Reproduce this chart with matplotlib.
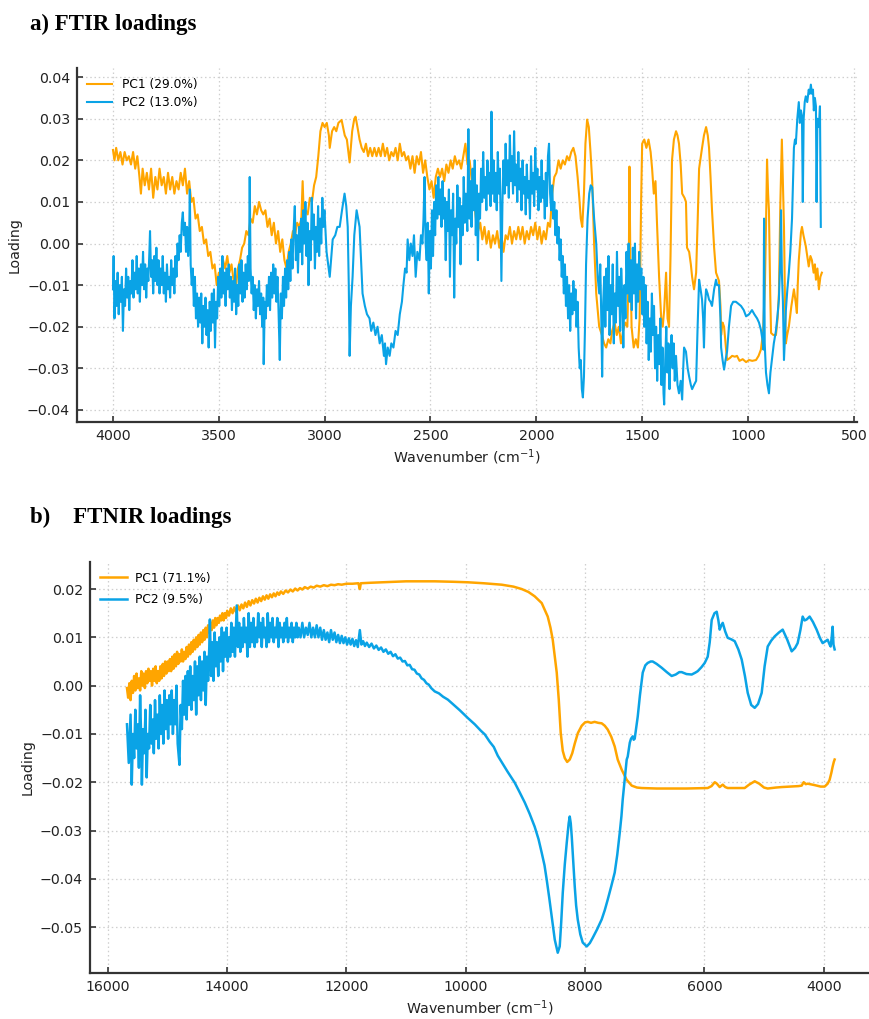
import numpy as np
import matplotlib
matplotlib.use("Agg")
import matplotlib.pyplot as plt
from matplotlib.ticker import FuncFormatter

# ---------------- data ----------------
ftir_pc1_label = "PC1 (29.0%)"
ftir_pc2_label = "PC2 (13.0%)"
nir_pc1_label = "PC1 (71.1%)"
nir_pc2_label = "PC2 (9.5%)"

ftir_pc1 = [
    (4000, 0.0225), (3993, 0.020), (3985, 0.023), (3975, 0.020), (3965, 0.022), (3955, 0.019),
    (3945, 0.022), (3935, 0.020), (3925, 0.021), (3915, 0.019), (3905, 0.022), (3895, 0.018),
    (3885, 0.021), (3875, 0.016), (3868, 0.012), (3860, 0.018), (3850, 0.014), (3840, 0.017),
    (3830, 0.013), (3820, 0.018), (3810, 0.011), (3800, 0.016), (3790, 0.013), (3780, 0.018),
    (3770, 0.014), (3760, 0.016), (3750, 0.012), (3740, 0.017), (3730, 0.013), (3720, 0.016),
    (3710, 0.012), (3700, 0.015), (3690, 0.013), (3680, 0.017), (3670, 0.014), (3660, 0.018),
    (3650, 0.012), (3640, 0.015), (3630, 0.010), (3620, 0.011), (3610, 0.006), (3600, 0.007),
    (3590, 0.003), (3580, 0.004), (3570, 0.000), (3560, 0.001), (3550, -0.003), (3540, -0.002),
    (3530, -0.006), (3520, -0.005), (3510, -0.010), (3500, -0.007), (3490, -0.008), (3480, -0.004),
    (3470, -0.006), (3460, -0.003), (3450, -0.007), (3440, -0.005), (3430, -0.009), (3420, -0.011),
    (3410, -0.006), (3400, -0.004), (3390, -0.001), (3380, 0.000), (3370, 0.003), (3360, 0.002),
    (3350, 0.006), (3340, 0.005), (3330, 0.009), (3320, 0.007), (3310, 0.010), (3300, 0.008),
    (3290, 0.007), (3280, 0.008), (3270, 0.004), (3260, 0.006), (3250, 0.002), (3240, 0.005),
    (3230, 0.000), (3220, 0.003), (3210, -0.002), (3200, 0.001), (3190, -0.004), (3180, -0.006),
    (3170, -0.002), (3160, 0.000), (3150, 0.003), (3140, 0.002), (3130, 0.005), (3120, 0.004),
    (3110, 0.006), (3104, 0.015), (3098, 0.006), (3090, 0.008), (3080, 0.007), (3070, 0.011),
    (3060, 0.010), (3050, 0.014), (3040, 0.016), (3030, 0.021), (3020, 0.027), (3010, 0.029),
    (3000, 0.028), (2990, 0.029), (2980, 0.026), (2976, 0.023), (2965, 0.027), (2955, 0.028),
    (2945, 0.027), (2935, 0.029), (2920, 0.0297), (2905, 0.026), (2895, 0.025), (2882, 0.0195),
    (2870, 0.027), (2860, 0.030), (2854, 0.0305), (2845, 0.028), (2835, 0.025), (2825, 0.023),
    (2815, 0.022), (2805, 0.024), (2795, 0.021), (2785, 0.023), (2775, 0.021), (2765, 0.023),
    (2755, 0.021), (2745, 0.023), (2735, 0.021), (2725, 0.024), (2715, 0.021), (2705, 0.023),
    (2695, 0.020), (2685, 0.022), (2675, 0.021), (2665, 0.023), (2655, 0.020), (2645, 0.024),
    (2635, 0.021), (2625, 0.022), (2615, 0.020), (2605, 0.021), (2595, 0.018), (2585, 0.021),
    (2575, 0.017), (2565, 0.021), (2555, 0.019), (2545, 0.022), (2535, 0.017), (2525, 0.020),
    (2515, 0.016), (2505, 0.013), (2495, 0.015), (2485, 0.011), (2475, 0.016), (2465, 0.018),
    (2455, 0.016), (2445, 0.018), (2435, 0.015), (2425, 0.019), (2415, 0.017), (2405, 0.020),
    (2395, 0.018), (2385, 0.021), (2375, 0.019), (2365, 0.020), (2355, 0.018), (2345, 0.021),
    (2335, 0.024), (2325, 0.019), (2315, 0.020), (2305, 0.015), (2295, 0.010), (2285, 0.006),
    (2275, 0.003), (2265, 0.005), (2255, 0.001), (2245, 0.004), (2235, 0.000), (2225, 0.003),
    (2215, -0.001), (2205, 0.002), (2195, 0.000), (2185, 0.003), (2175, -0.001), (2165, 0.002),
    (2155, -0.002), (2145, 0.002), (2135, 0.001), (2125, 0.004), (2115, 0.000), (2105, 0.003),
    (2095, 0.001), (2085, 0.004), (2075, 0.001), (2065, 0.004), (2055, 0.000), (2045, 0.003),
    (2035, 0.001), (2025, 0.004), (2015, 0.002), (2005, 0.005), (1995, 0.001), (1985, 0.004),
    (1975, 0.000), (1965, 0.003), (1955, 0.001), (1945, 0.005), (1935, 0.004), (1925, 0.012),
    (1915, 0.016), (1905, 0.017), (1895, 0.020), (1885, 0.018), (1875, 0.020), (1865, 0.019),
    (1855, 0.021), (1845, 0.020), (1835, 0.022), (1825, 0.023), (1815, 0.021), (1805, 0.016),
    (1797, 0.011), (1790, 0.006), (1783, 0.004), (1775, 0.012), (1768, 0.024), (1760, 0.0298),
    (1752, 0.028), (1744, 0.022), (1736, 0.015), (1727, 0.000), (1717, -0.012), (1703, -0.020),
    (1690, -0.022), (1680, -0.024), (1670, -0.025), (1660, -0.023), (1650, -0.024), (1642, -0.021),
    (1630, -0.019), (1620, -0.022), (1610, -0.020), (1600, -0.024), (1590, -0.021), (1580, -0.019),
    (1570, -0.020), (1563, -0.005), (1560, 0.0185), (1556, -0.003), (1550, -0.020), (1540, -0.025),
    (1530, -0.023), (1520, -0.025), (1512, -0.018), (1505, 0.010), (1500, 0.024), (1490, 0.025),
    (1480, 0.023), (1470, 0.025), (1460, 0.022), (1453, 0.018), (1445, 0.012), (1437, 0.015),
    (1430, 0.005), (1420, -0.008), (1410, -0.018), (1403, -0.020), (1396, -0.016), (1387, -0.007),
    (1380, -0.018), (1373, -0.020), (1366, -0.003), (1359, 0.020), (1350, 0.025), (1340, 0.027),
    (1333, 0.026), (1326, 0.024), (1318, 0.019), (1311, 0.012), (1300, 0.011), (1293, 0.010),
    (1288, -0.001), (1278, -0.002), (1270, -0.005), (1264, -0.008), (1255, -0.011), (1245, -0.007),
    (1238, 0.005), (1231, 0.018), (1217, 0.023), (1208, 0.026), (1198, 0.028), (1190, 0.026),
    (1184, 0.023), (1177, 0.016), (1170, 0.008), (1160, -0.001), (1151, -0.007), (1137, -0.009),
    (1130, -0.015), (1127, -0.022), (1120, -0.019), (1113, -0.020), (1106, -0.024), (1099, -0.028),
    (1085, -0.0275), (1075, -0.027), (1062, -0.0272), (1052, -0.027), (1040, -0.0282), (1025, -0.0278),
    (1009, -0.0285), (995, -0.028), (980, -0.0282), (962, -0.028), (950, -0.027), (939, -0.0255),
    (929, -0.0215), (920, -0.010), (915, 0.004), (910, 0.0202), (905, 0.012), (901, 0.008),
    (895, -0.012), (891, -0.0215), (880, -0.022), (868, -0.022), (860, -0.018), (854, -0.012),
    (847, 0.010), (840, 0.025), (835, 0.015), (830, 0.004), (825, -0.015), (821, -0.024),
    (815, -0.022), (807, -0.020), (795, -0.015), (783, -0.011), (775, -0.014), (769, -0.0167),
    (765, -0.010), (760, -0.004), (750, 0.0026), (745, 0.004), (738, 0.002), (727, -0.0006),
    (720, -0.003), (713, -0.0055), (705, -0.003), (698, -0.004), (690, -0.007), (684, -0.005),
    (679, -0.0087), (672, -0.006), (665, -0.011), (658, -0.008), (651, -0.007),
]

ftir_pc2 = [
    (4000, -0.011), (3997, -0.003), (3993, -0.018), (3988, -0.009), (3983, -0.015), (3978, -0.007),
    (3973, -0.017), (3968, -0.010), (3963, -0.014), (3958, -0.008), (3953, -0.021), (3948, -0.011),
    (3943, -0.015), (3938, -0.006), (3933, -0.013), (3928, -0.008), (3923, -0.016), (3918, -0.009),
    (3913, -0.012), (3908, -0.004), (3903, -0.013), (3898, -0.007), (3893, -0.011), (3888, -0.003),
    (3883, -0.012), (3878, -0.006), (3873, -0.014), (3868, -0.005), (3863, -0.010), (3858, -0.002),
    (3853, -0.011), (3848, -0.005), (3843, -0.013), (3838, -0.006), (3833, -0.009), (3828, -0.002),
    (3825, 0.003), (3820, -0.008), (3815, -0.004), (3810, -0.012), (3805, -0.003), (3800, -0.009),
    (3795, -0.001), (3790, -0.010), (3785, -0.004), (3780, -0.012), (3775, -0.006), (3770, -0.010),
    (3765, -0.003), (3760, -0.012), (3755, -0.007), (3750, -0.014), (3745, -0.005), (3740, -0.011),
    (3735, -0.008), (3730, -0.013), (3725, -0.004), (3720, -0.010), (3715, -0.006), (3710, -0.012),
    (3705, -0.003), (3700, -0.008), (3695, 0.000), (3690, -0.004), (3685, 0.002), (3680, -0.002),
    (3675, 0.005), (3670, 0.0075), (3665, 0.002), (3660, 0.005), (3655, -0.002), (3650, 0.004),
    (3645, -0.003), (3640, 0.002), (3637, 0.013), (3633, -0.005), (3628, -0.010), (3623, -0.006),
    (3618, -0.015), (3613, -0.008), (3608, -0.018), (3603, -0.012), (3598, -0.020), (3593, -0.013),
    (3588, -0.019), (3583, -0.012), (3578, -0.024), (3573, -0.015), (3568, -0.020), (3563, -0.013),
    (3558, -0.022), (3553, -0.016), (3548, -0.025), (3543, -0.014), (3538, -0.021), (3533, -0.012),
    (3528, -0.019), (3523, -0.011), (3518, -0.025), (3513, -0.014), (3508, -0.018), (3503, -0.008),
    (3498, -0.015), (3493, -0.006), (3488, -0.013), (3483, -0.003), (3478, -0.012), (3473, -0.007),
    (3468, -0.015), (3463, -0.006), (3458, -0.011), (3453, -0.005), (3448, -0.013), (3443, -0.008),
    (3438, -0.016), (3433, -0.009), (3428, -0.014), (3423, -0.006), (3418, -0.017), (3413, -0.010),
    (3408, -0.015), (3403, -0.005), (3398, -0.012), (3393, -0.004), (3388, -0.014), (3383, -0.007),
    (3378, -0.013), (3373, -0.005), (3368, -0.011), (3363, -0.003), (3358, -0.009), (3354, 0.016),
    (3350, -0.006), (3345, -0.012), (3340, -0.008), (3335, -0.016), (3330, -0.010), (3325, -0.018),
    (3320, -0.011), (3315, -0.015), (3310, -0.009), (3305, -0.017), (3300, -0.012), (3295, -0.020),
    (3290, -0.013), (3288, -0.029), (3283, -0.014), (3278, -0.018), (3273, -0.010), (3268, -0.015),
    (3263, -0.008), (3258, -0.016), (3253, -0.007), (3248, -0.013), (3243, -0.005), (3238, -0.012),
    (3233, -0.006), (3228, -0.014), (3223, -0.008), (3218, -0.016), (3212, -0.028), (3207, -0.012),
    (3202, -0.018), (3197, -0.008), (3192, -0.015), (3187, -0.006), (3182, -0.013), (3177, -0.004),
    (3172, -0.011), (3167, -0.002), (3162, -0.009), (3157, 0.001), (3152, -0.006), (3147, 0.003),
    (3141, 0.009), (3136, -0.004), (3131, 0.002), (3126, -0.007), (3121, 0.004), (3116, -0.002),
    (3111, 0.006), (3106, -0.005), (3101, 0.008), (3096, 0.000), (3091, 0.010), (3086, -0.003),
    (3081, 0.005), (3076, -0.010), (3071, 0.003), (3066, -0.004), (3061, 0.011), (3056, 0.001),
    (3051, 0.007), (3046, -0.006), (3041, 0.004), (3036, -0.002), (3031, 0.009), (3026, -0.003),
    (3021, 0.006), (3016, 0.000), (3011, 0.011), (3006, 0.004), (3001, 0.008), (2991, -0.002),
    (2976, -0.008), (2968, -0.003), (2962, 0.001), (2950, 0.002), (2940, 0.004), (2929, 0.004),
    (2918, 0.008), (2906, 0.012), (2898, 0.009), (2891, 0.004), (2886, -0.010), (2882, -0.027),
    (2876, -0.015), (2868, -0.008), (2860, 0.002), (2849, 0.008), (2842, 0.006), (2835, 0.004),
    (2828, -0.004), (2821, -0.012), (2810, -0.015), (2800, -0.017), (2788, -0.018), (2780, -0.021),
    (2770, -0.019), (2760, -0.022), (2750, -0.020), (2740, -0.024), (2730, -0.022), (2720, -0.027),
    (2715, -0.024), (2710, -0.029), (2702, -0.025), (2693, -0.027), (2685, -0.024), (2675, -0.025),
    (2665, -0.021), (2655, -0.022), (2645, -0.017), (2635, -0.014), (2628, -0.010), (2620, -0.006),
    (2613, -0.007), (2608, 0.001), (2600, -0.004), (2593, 0.000), (2585, -0.003), (2578, 0.002),
    (2570, -0.008), (2562, -0.002), (2552, -0.004), (2545, 0.002), (2538, 0.000), (2533, 0.006),
    (2528, 0.016), (2523, 0.000), (2518, -0.004), (2513, 0.005), (2508, -0.012), (2503, 0.003),
    (2498, -0.006), (2493, 0.008), (2488, -0.003), (2483, 0.010), (2478, 0.002), (2473, 0.014),
    (2468, 0.006), (2463, 0.016), (2458, 0.007), (2453, 0.013), (2448, 0.004), (2443, 0.015),
    (2438, 0.006), (2433, 0.011), (2428, -0.004), (2423, 0.010), (2418, 0.003), (2413, 0.013),
    (2408, -0.008), (2403, 0.008), (2398, 0.002), (2393, 0.012), (2388, -0.013), (2383, 0.006),
    (2378, 0.000), (2373, 0.014), (2368, 0.004), (2363, 0.011), (2358, -0.005), (2353, 0.009),
    (2348, 0.002), (2343, 0.016), (2338, 0.005), (2333, 0.012), (2326, 0.003), (2321, 0.0275),
    (2316, 0.006), (2311, 0.015), (2306, 0.004), (2301, 0.018), (2296, 0.008), (2291, 0.020),
    (2286, 0.002), (2281, 0.014), (2276, -0.004), (2271, 0.012), (2266, 0.006), (2261, 0.018),
    (2256, 0.010), (2251, 0.022), (2246, 0.011), (2241, 0.016), (2236, 0.008), (2231, 0.020),
    (2226, 0.012), (2221, 0.017), (2216, 0.009), (2212, 0.0317), (2207, 0.012), (2202, 0.020),
    (2197, 0.010), (2192, 0.017), (2187, 0.008), (2182, 0.022), (2177, 0.012), (2172, 0.018),
    (2165, -0.009), (2160, 0.010), (2155, 0.020), (2150, 0.012), (2145, 0.024), (2140, 0.014),
    (2135, 0.020), (2130, 0.011), (2125, 0.026), (2120, 0.015), (2115, 0.021), (2110, 0.012),
    (2105, 0.027), (2100, 0.014), (2095, 0.019), (2090, 0.010), (2085, 0.022), (2080, 0.013),
    (2075, 0.018), (2070, 0.008), (2065, 0.020), (2060, 0.012), (2055, 0.016), (2050, 0.007),
    (2045, 0.019), (2040, 0.011), (2035, 0.015), (2030, 0.006), (2025, 0.021), (2020, 0.012),
    (2015, 0.017), (2010, 0.009), (2005, 0.023), (2000, 0.013), (1995, 0.018), (1990, 0.008),
    (1985, 0.016), (1980, 0.010), (1975, 0.020), (1970, 0.011), (1965, 0.015), (1960, 0.006),
    (1955, 0.017), (1950, 0.009), (1945, 0.021), (1940, 0.024), (1935, 0.012), (1930, 0.008),
    (1925, 0.014), (1920, 0.006), (1915, 0.010), (1910, 0.002), (1905, 0.008), (1900, 0.000),
    (1895, 0.004), (1890, -0.004), (1885, 0.001), (1880, -0.008), (1875, -0.003), (1870, -0.012),
    (1865, -0.005), (1860, -0.015), (1855, -0.008), (1850, -0.018), (1845, -0.010), (1840, -0.021),
    (1835, -0.012), (1830, -0.017), (1825, -0.009), (1820, -0.016), (1815, -0.011), (1810, -0.020),
    (1805, -0.014), (1800, -0.025), (1795, -0.030), (1790, -0.028), (1785, -0.035), (1780, -0.037),
    (1775, -0.032), (1770, -0.020), (1765, -0.005), (1758, 0.006), (1750, 0.012), (1743, 0.014),
    (1736, 0.0135), (1727, 0.006), (1717, 0.000), (1710, -0.008), (1703, -0.012), (1698, -0.005),
    (1693, -0.018), (1689, -0.032), (1684, -0.014), (1679, -0.008), (1674, -0.020), (1669, -0.006),
    (1664, -0.016), (1659, -0.003), (1654, -0.022), (1649, -0.010), (1644, -0.017), (1639, -0.005),
    (1634, -0.024), (1629, -0.012), (1624, -0.019), (1619, -0.002), (1614, -0.015), (1609, -0.008),
    (1604, -0.021), (1599, -0.006), (1594, -0.013), (1589, -0.025), (1584, -0.010), (1579, -0.018),
    (1574, -0.002), (1569, -0.012), (1564, 0.000), (1559, -0.014), (1554, -0.004), (1549, -0.016),
    (1544, -0.001), (1539, -0.012), (1534, 0.000), (1529, -0.018), (1524, -0.005), (1519, -0.014),
    (1514, -0.002), (1509, -0.011), (1504, -0.006), (1499, -0.017), (1494, -0.008), (1489, -0.020),
    (1484, -0.010), (1479, -0.024), (1474, -0.014), (1469, -0.028), (1464, -0.018), (1459, -0.026),
    (1454, -0.012), (1449, -0.022), (1444, -0.015), (1439, -0.030), (1434, -0.020), (1429, -0.033),
    (1424, -0.022), (1419, -0.029), (1414, -0.018), (1409, -0.034), (1404, -0.025), (1399, -0.036),
    (1396, -0.0387), (1391, -0.028), (1386, -0.020), (1381, -0.031), (1376, -0.024), (1371, -0.035),
    (1366, -0.026), (1361, -0.022), (1356, -0.030), (1351, -0.024), (1346, -0.033), (1340, -0.027),
    (1333, -0.034), (1326, -0.036), (1318, -0.033), (1311, -0.0375), (1306, -0.030), (1302, -0.025),
    (1293, -0.026), (1285, -0.030), (1278, -0.032), (1270, -0.034), (1264, -0.035), (1255, -0.034),
    (1245, -0.033), (1238, -0.020), (1231, -0.0087), (1224, -0.011), (1217, -0.0135), (1212, -0.018),
    (1208, -0.025), (1203, -0.015), (1198, -0.011), (1191, -0.012), (1184, -0.0135), (1177, -0.014),
    (1170, -0.015), (1160, -0.011), (1151, -0.0087), (1146, -0.010), (1137, -0.010), (1130, -0.018),
    (1127, -0.025), (1120, -0.028), (1113, -0.0303), (1106, -0.028), (1099, -0.026), (1090, -0.020),
    (1080, -0.015), (1070, -0.014), (1057, -0.014), (1045, -0.0145), (1033, -0.015), (1020, -0.016),
    (1009, -0.0175), (995, -0.017), (981, -0.016), (970, -0.017), (957, -0.018), (948, -0.019),
    (939, -0.0207), (932, -0.023), (927, -0.0255), (924, 0.006), (921, -0.024), (915, -0.031),
    (908, -0.034), (901, -0.036), (894, -0.031), (887, -0.028), (878, -0.024), (868, -0.021),
    (860, -0.017), (854, -0.0135), (848, -0.004), (844, 0.008), (840, -0.007), (835, -0.014),
    (830, -0.028), (825, -0.022), (821, -0.016), (814, -0.011), (807, -0.007), (800, -0.002),
    (792, 0.006), (787, 0.015), (783, 0.023), (778, 0.025), (774, 0.024), (767, 0.030),
    (760, 0.034), (755, 0.029), (750, 0.032), (745, 0.0306), (741, 0.010), (737, 0.030),
    (732, 0.034), (727, 0.0354), (720, 0.034), (713, 0.037), (708, 0.036), (703, 0.0382),
    (698, 0.036), (693, 0.037), (689, 0.032), (684, 0.035), (679, 0.033), (676, 0.010),
    (672, 0.030), (665, 0.028), (660, 0.033), (656, 0.004),
]

nir_pc1 = [
    (15680, -0.0005), (15660, -0.0025), (15640, 0.0005), (15620, -0.003), (15600, 0.0010),
    (15580, -0.0015), (15560, 0.0020), (15540, -0.0010), (15520, 0.0025), (15500, -0.0005),
    (15480, 0.0015), (15460, -0.0010), (15440, 0.0030), (15420, 0.0000), (15400, 0.0025),
    (15380, -0.0005), (15360, 0.0030), (15340, 0.0005), (15320, 0.0035), (15300, 0.0010),
    (15280, 0.0030), (15260, 0.0000), (15240, 0.0035), (15220, 0.0010), (15200, 0.0040),
    (15180, 0.0005), (15160, 0.0030), (15140, 0.0010), (15120, 0.0040), (15100, 0.0015),
    (15080, 0.0045), (15060, 0.0020), (15040, 0.0050), (15020, 0.0025), (15000, 0.0050),
    (14980, 0.0030), (14960, 0.0055), (14940, 0.0030), (14920, 0.0060), (14900, 0.0035),
    (14880, 0.0065), (14860, 0.0040), (14840, 0.0070), (14820, 0.0045), (14800, 0.0065),
    (14780, 0.0050), (14760, 0.0075), (14740, 0.0050), (14720, 0.0070), (14700, 0.0055),
    (14680, 0.0080), (14660, 0.0060), (14640, 0.0085), (14620, 0.0065), (14600, 0.0090),
    (14580, 0.0070), (14560, 0.0095), (14540, 0.0075), (14520, 0.0100), (14500, 0.0080),
    (14480, 0.0105), (14460, 0.0085), (14440, 0.0110), (14420, 0.0090), (14400, 0.0115),
    (14380, 0.0095), (14360, 0.0120), (14340, 0.0100), (14320, 0.0125), (14300, 0.0110),
    (14280, 0.0130), (14260, 0.0115), (14240, 0.0135), (14220, 0.0120), (14200, 0.0140),
    (14180, 0.0125), (14160, 0.0140), (14140, 0.0130), (14120, 0.0145), (14100, 0.0135),
    (14080, 0.0150), (14060, 0.0135), (14040, 0.0150), (14020, 0.0140), (14000, 0.0155),
    (13970, 0.0145), (13940, 0.0160), (13910, 0.0150), (13880, 0.0162), (13850, 0.0152),
    (13820, 0.0166), (13790, 0.0156), (13760, 0.0168), (13730, 0.0160), (13700, 0.0172),
    (13670, 0.0163), (13640, 0.0175), (13610, 0.0166), (13580, 0.0177), (13550, 0.0170),
    (13520, 0.0180), (13490, 0.0172), (13460, 0.0182), (13430, 0.0175), (13400, 0.0185),
    (13370, 0.0178), (13340, 0.0187), (13310, 0.0180), (13280, 0.0189), (13250, 0.0183),
    (13220, 0.0191), (13190, 0.0185), (13160, 0.0193), (13130, 0.0188), (13100, 0.0195),
    (13060, 0.0190), (13020, 0.0197), (12980, 0.0193), (12940, 0.0199), (12900, 0.0195),
    (12860, 0.0201), (12820, 0.0197), (12780, 0.0202), (12740, 0.0199), (12700, 0.0204),
    (12650, 0.0201), (12600, 0.0205), (12550, 0.0203), (12500, 0.0207), (12440, 0.0205),
    (12380, 0.0208), (12320, 0.0206), (12260, 0.0209), (12200, 0.0208), (12140, 0.0210),
    (12080, 0.0209), (12000, 0.0211), (11900, 0.0211), (11800, 0.0212), (11776, 0.0200),
    (11760, 0.0212), (11600, 0.0213), (11400, 0.0214), (11200, 0.0215), (11000, 0.0216),
    (10800, 0.0216), (10520, 0.0216), (10200, 0.0215), (9966, 0.0214), (9700, 0.0212),
    (9397, 0.0209), (9200, 0.0205), (9062, 0.0200), (8950, 0.0194), (8845, 0.0185),
    (8727, 0.0171), (8626, 0.0143), (8580, 0.0120), (8542, 0.0095), (8508, 0.0060),
    (8475, 0.0027), (8441, -0.0029), (8408, -0.0098), (8374, -0.0135), (8340, -0.0150),
    (8300, -0.0158), (8257, -0.0153), (8215, -0.0140), (8173, -0.0120), (8120, -0.0098),
    (8056, -0.0083), (8000, -0.0076), (7955, -0.0075), (7900, -0.0077), (7840, -0.0075),
    (7780, -0.0077), (7721, -0.0078), (7670, -0.0083), (7620, -0.0091), (7560, -0.0106),
    (7503, -0.0126), (7453, -0.0153), (7386, -0.0174), (7302, -0.0195), (7218, -0.0207),
    (7130, -0.0211), (7050, -0.0212), (6800, -0.0213), (6615, -0.0213), (6300, -0.0213),
    (5944, -0.0212), (5880, -0.0208), (5826, -0.0200), (5790, -0.0203), (5743, -0.0210),
    (5692, -0.0205), (5650, -0.0210), (5609, -0.0212), (5450, -0.0212), (5324, -0.0212),
    (5250, -0.0205), (5156, -0.0198), (5080, -0.0203), (5000, -0.0211), (4938, -0.0213),
    (4800, -0.0211), (4704, -0.0210), (4550, -0.0209), (4420, -0.0208), (4369, -0.0207),
    (4335, -0.0200), (4300, -0.0204), (4268, -0.0203), (4150, -0.0206), (4050, -0.0209),
    (3983, -0.0209), (3933, -0.0203), (3900, -0.0195), (3870, -0.0180), (3850, -0.0168),
    (3830, -0.0158), (3816, -0.0153),
]

nir_pc2 = [
    (15680, -0.008), (15650, -0.016), (15620, -0.006), (15600, -0.0205), (15580, -0.010),
    (15560, -0.015), (15540, -0.005), (15520, -0.013), (15500, -0.008), (15480, -0.017),
    (15460, -0.002), (15440, -0.012), (15430, -0.0205), (15410, -0.009), (15390, -0.014),
    (15370, -0.005), (15350, -0.019), (15330, -0.010), (15310, -0.013), (15290, -0.004),
    (15270, -0.012), (15250, -0.007), (15230, -0.014), (15210, -0.003), (15190, -0.011),
    (15170, -0.006), (15150, -0.013), (15130, -0.002), (15110, -0.010), (15090, -0.004),
    (15070, -0.012), (15050, -0.001), (15030, -0.009), (15010, -0.003), (14990, -0.011),
    (14970, -0.002), (14950, -0.008), (14930, -0.001), (14910, -0.010), (14890, -0.003),
    (14870, -0.008), (14850, 0.000), (14830, -0.012), (14800, -0.0164), (14780, -0.004),
    (14760, -0.009), (14740, 0.001), (14720, -0.006), (14700, 0.002), (14680, -0.007),
    (14660, 0.003), (14640, -0.004), (14620, 0.004), (14600, -0.005), (14580, 0.002),
    (14560, -0.003), (14540, 0.005), (14520, -0.006), (14500, 0.004), (14480, -0.002),
    (14460, 0.006), (14440, -0.003), (14420, 0.005), (14400, -0.001), (14380, 0.007),
    (14360, -0.004), (14340, 0.006), (14320, 0.001), (14300, 0.008), (14290, 0.0137),
    (14270, 0.002), (14250, 0.009), (14230, 0.001), (14210, 0.011), (14190, 0.004),
    (14170, 0.009), (14150, 0.002), (14130, 0.010), (14110, 0.005), (14090, 0.012),
    (14070, 0.003), (14050, 0.011), (14030, 0.006), (14010, 0.012), (13990, 0.005),
    (13970, 0.010), (13950, 0.006), (13930, 0.013), (13910, 0.007), (13890, 0.012),
    (13870, 0.006), (13840, 0.0166), (13820, 0.008), (13800, 0.013), (13780, 0.007),
    (13760, 0.012), (13740, 0.008), (13720, 0.014), (13700, 0.009), (13680, 0.012),
    (13660, 0.006), (13640, 0.015), (13620, 0.008), (13600, 0.013), (13580, 0.009),
    (13560, 0.014), (13540, 0.008), (13520, 0.012), (13500, 0.009), (13480, 0.015),
    (13460, 0.010), (13440, 0.013), (13420, 0.008), (13400, 0.014), (13380, 0.010),
    (13360, 0.012), (13340, 0.008), (13320, 0.015), (13300, 0.009), (13280, 0.013),
    (13260, 0.010), (13240, 0.014), (13220, 0.009), (13200, 0.012), (13180, 0.010),
    (13160, 0.014), (13140, 0.008), (13120, 0.013), (13100, 0.010), (13080, 0.012),
    (13060, 0.009), (13040, 0.013), (13020, 0.010), (13000, 0.014), (12980, 0.009),
    (12960, 0.012), (12940, 0.010), (12920, 0.013), (12900, 0.009), (12880, 0.012),
    (12860, 0.010), (12840, 0.013), (12820, 0.010), (12800, 0.012), (12770, 0.010),
    (12740, 0.013), (12710, 0.010), (12680, 0.012), (12650, 0.0105), (12620, 0.013),
    (12590, 0.010), (12560, 0.012), (12530, 0.010), (12500, 0.0125), (12470, 0.010),
    (12440, 0.012), (12410, 0.0095), (12380, 0.0115), (12350, 0.0095), (12320, 0.011),
    (12290, 0.009), (12260, 0.0115), (12230, 0.0095), (12200, 0.011), (12170, 0.009),
    (12140, 0.0105), (12110, 0.0088), (12080, 0.0103), (12050, 0.0088), (12020, 0.010),
    (11990, 0.0085), (11960, 0.0098), (11930, 0.0085), (11900, 0.0097), (11870, 0.0082),
    (11840, 0.0094), (11810, 0.0080), (11776, 0.0115), (11750, 0.0085), (11720, 0.0092),
    (11690, 0.0082), (11660, 0.0089), (11620, 0.0080), (11580, 0.0087), (11540, 0.0077),
    (11500, 0.0083), (11460, 0.0074), (11420, 0.0079), (11380, 0.0070), (11340, 0.0075),
    (11300, 0.0066), (11260, 0.0070), (11220, 0.0061), (11180, 0.0065), (11140, 0.0056),
    (11100, 0.0058), (11060, 0.0050), (11020, 0.0051), (10980, 0.0042), (10940, 0.0043),
    (10900, 0.0034), (10860, 0.0033), (10820, 0.0025), (10780, 0.0023), (10740, 0.0015),
    (10700, 0.0012), (10660, 0.0005), (10620, 0.0002), (10580, -0.0005), (10520, -0.0012),
    (10450, -0.0016), (10380, -0.0023), (10300, -0.0029), (10200, -0.0040), (10100, -0.0051),
    (9966, -0.0067), (9850, -0.0080), (9750, -0.0093), (9681, -0.0101), (9600, -0.0116),
    (9530, -0.0127), (9464, -0.0145), (9380, -0.0162), (9300, -0.0178), (9179, -0.0201),
    (9100, -0.0220), (9011, -0.0242), (8930, -0.0265), (8845, -0.0292), (8780, -0.0318),
    (8727, -0.0346), (8680, -0.0372), (8643, -0.0402), (8600, -0.0440), (8559, -0.0478),
    (8508, -0.0526), (8458, -0.0553), (8425, -0.0540), (8400, -0.0490), (8374, -0.0429),
    (8340, -0.0370), (8307, -0.0325), (8275, -0.0285), (8257, -0.0271), (8240, -0.0285),
    (8223, -0.0313), (8200, -0.0360), (8173, -0.0416), (8150, -0.0455), (8123, -0.0484),
    (8080, -0.0515), (8039, -0.0532), (7972, -0.0540), (7920, -0.0533), (7871, -0.0522),
    (7800, -0.0505), (7721, -0.0484), (7670, -0.0465), (7620, -0.0443), (7560, -0.0415),
    (7503, -0.0387), (7460, -0.0350), (7419, -0.0305), (7390, -0.0270), (7369, -0.0236),
    (7335, -0.0195), (7302, -0.0153), (7285, -0.0147), (7250, -0.0118), (7230, -0.0110),
    (7201, -0.0105), (7185, -0.0112), (7168, -0.0110), (7140, -0.0085), (7117, -0.0064),
    (7080, -0.0020), (7033, 0.0027), (6990, 0.0042), (6950, 0.0047), (6900, 0.0050),
    (6866, 0.0050), (6800, 0.0045), (6715, 0.0037), (6630, 0.0028), (6548, 0.0020),
    (6480, 0.0023), (6420, 0.0028), (6380, 0.0028), (6300, 0.0024), (6212, 0.0023),
    (6150, 0.0027), (6111, 0.0030), (6050, 0.0038), (5994, 0.0047), (5944, 0.0060),
    (5910, 0.0090), (5877, 0.0136), (5830, 0.0150), (5793, 0.0153), (5765, 0.0135),
    (5743, 0.0116), (5715, 0.0125), (5692, 0.0130), (5650, 0.0112), (5609, 0.0099),
    (5550, 0.0096), (5491, 0.0092), (5430, 0.0075), (5374, 0.0054), (5320, 0.0020),
    (5273, -0.0015), (5215, -0.0040), (5156, -0.0046), (5100, -0.0038), (5039, -0.0015),
    (4990, 0.0040), (4938, 0.0081), (4880, 0.0093), (4821, 0.0102), (4750, 0.0110),
    (4687, 0.0116), (4610, 0.0095), (4536, 0.0071), (4480, 0.0078), (4436, 0.0088),
    (4390, 0.0115), (4352, 0.0143), (4320, 0.0135), (4285, 0.0137), (4235, 0.0143),
    (4180, 0.0132), (4118, 0.0116), (4060, 0.0098), (4017, 0.0088), (3970, 0.0092),
    (3933, 0.0095), (3900, 0.0085), (3883, 0.0081), (3865, 0.0100), (3850, 0.0122),
    (3835, 0.0085), (3816, 0.0075),
]

# ---------------- styling ----------------
C_PC1 = "#FFA500"
C_PC2 = "#0AA3E6"
SPINE = "#333333"

W, H = 870, 1019
fig = plt.figure(figsize=(W / 100, H / 100), dpi=100)
fig.patch.set_facecolor("white")

minus_fmt = FuncFormatter(lambda v, p: ("%.2f" % v).replace("-", "\u2212") if abs(v) > 1e-12 else "0.00")


def px_axes(left, top, right, bottom):
    return fig.add_axes([left / W, 1 - bottom / H, (right - left) / W, (bottom - top) / H])


def style(ax, lw_spine=1.6):
    for s in ("top", "right"):
        ax.spines[s].set_visible(False)
    for s in ("left", "bottom"):
        ax.spines[s].set_color(SPINE)
        ax.spines[s].set_linewidth(lw_spine)
    ax.tick_params(direction="in", length=4, width=1.2, colors=SPINE,
                   labelcolor="#222222", labelsize=10.2, pad=5)
    ax.grid(True, color="#cfcfcf", linestyle=(0, (1.2, 2.2)), linewidth=0.9)
    ax.set_axisbelow(True)
    ax.yaxis.set_major_formatter(minus_fmt)


def xy(points):
    arr = np.array(points, dtype=float)
    return arr[:, 0], arr[:, 1]


# ---- panel a: FTIR ----
ax1 = px_axes(77, 68, 857, 422)
x, y = xy(ftir_pc1)
ax1.plot(x, y, color=C_PC1, lw=1.5, label=ftir_pc1_label)
x, y = xy(ftir_pc2)
ax1.plot(x, y, color=C_PC2, lw=1.5, label=ftir_pc2_label)
ax1.set_xlim(4170, 485)
ax1.set_ylim(-0.0429, 0.0422)
ax1.set_xticks([4000, 3500, 3000, 2500, 2000, 1500, 1000, 500])
ax1.set_yticks([-0.04, -0.03, -0.02, -0.01, 0.0, 0.01, 0.02, 0.03, 0.04])
style(ax1)
ax1.set_xlabel("Wavenumber (cm$^{-1}$)", fontsize=10.2, color="#222222", labelpad=3)
ax1.set_ylabel("Loading", fontsize=10.2, color="#222222", labelpad=4)
ax1.legend(loc="upper left", frameon=False, fontsize=8.8, handlelength=2.05,
           handletextpad=0.8, labelspacing=0.45, borderaxespad=0.4, borderpad=0.4)

# ---- panel b: FTNIR ----
ax2 = px_axes(90, 562, 870, 973)
x, y = xy(nir_pc1)
ax2.plot(x, y, color=C_PC1, lw=1.8, label=nir_pc1_label)
x, y = xy(nir_pc2)
ax2.plot(x, y, color=C_PC2, lw=1.8, label=nir_pc2_label)
ax2.set_xlim(16300, 3223)
ax2.set_ylim(-0.0595, 0.0256)
ax2.set_xticks([16000, 14000, 12000, 10000, 8000, 6000, 4000])
ax2.set_yticks([-0.05, -0.04, -0.03, -0.02, -0.01, 0.0, 0.01, 0.02])
style(ax2)
ax2.set_xlabel("Wavenumber (cm$^{-1}$)", fontsize=10.2, color="#222222", labelpad=3)
ax2.set_ylabel("Loading", fontsize=10.2, color="#222222", labelpad=4)
ax2.legend(loc="upper left", frameon=False, fontsize=8.8, handlelength=2.2,
           handletextpad=0.65, labelspacing=0.7, borderaxespad=0.4, borderpad=0.4)

# ---- panel titles ----
fig.text(30 / W, 1 - 30 / H, "a) FTIR loadings", fontsize=16.5, fontweight="bold",
         family="Liberation Serif", ha="left", va="baseline")
fig.text(30 / W, 1 - 523 / H, "b)    FTNIR loadings", fontsize=16.5, fontweight="bold",
         family="Liberation Serif", ha="left", va="baseline")

fig.savefig("out.png", dpi=100, facecolor="white")
